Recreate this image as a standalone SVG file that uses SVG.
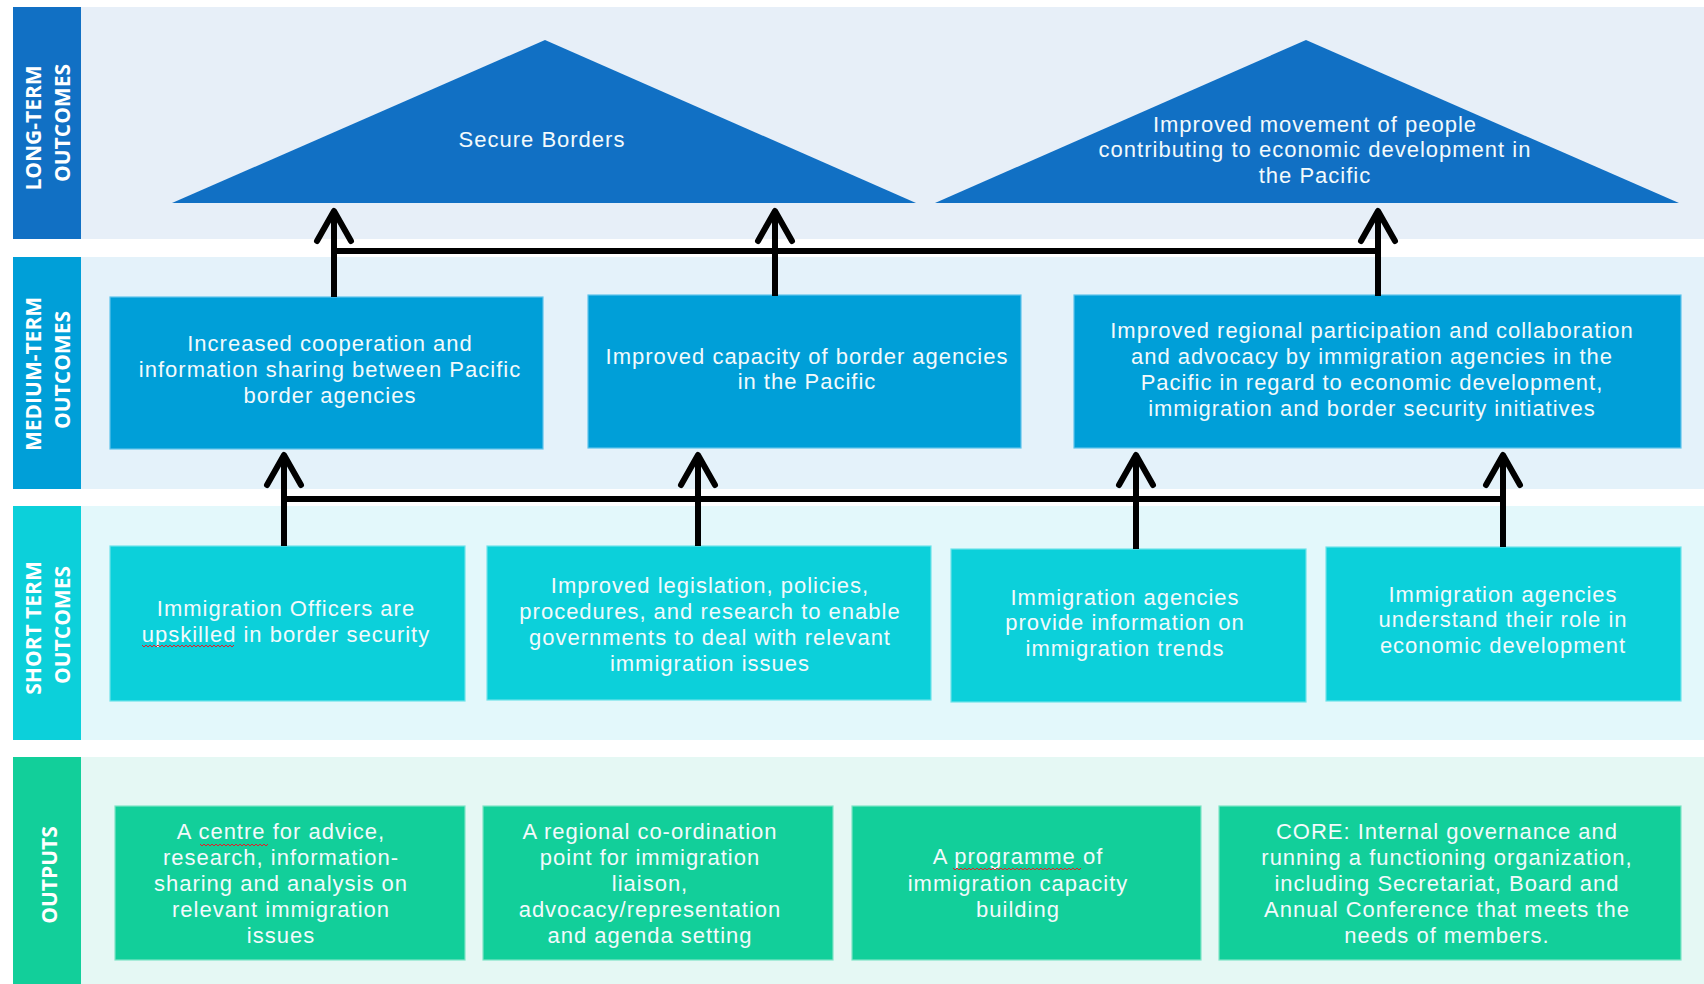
<svg xmlns="http://www.w3.org/2000/svg" width="1704" height="984" viewBox="0 0 1704 984">
<defs>
<style>
.bg1{fill:#E7EFF8}.bg2{fill:#E4F2FA}.bg3{fill:#E3F8FB}.bg4{fill:#E5F8F4}
.c1{fill:#1170C4}.c2{fill:#009FD8}.c3{fill:#0CD0DA}.c4{fill:#12CF9A}
.b2{fill:#009FD8;stroke:#5FC4EC;stroke-width:1.2}
.b3{fill:#0CD0DA;stroke:#6FE3EA;stroke-width:1.2}
.b4{fill:#12CF9A;stroke:#7FE5C6;stroke-width:1.2}
.side{font-family:"Open Sans","DejaVu Sans",sans-serif;font-weight:700;font-size:21px;fill:#FFFFFF;text-anchor:middle}
.t{font-family:"Liberation Sans",Arial,sans-serif;font-size:22px;letter-spacing:1px;fill:#F3FAFC;text-anchor:middle}
.ln{stroke:#000;stroke-width:6;fill:none}
.ar{stroke:#000;stroke-width:6;fill:none;marker-end:url(#head)}
.sp{stroke:#E0202A;stroke-width:1;fill:none}
</style>
<marker id="head" markerUnits="userSpaceOnUse" viewBox="-40 -25 50 50" markerWidth="50" markerHeight="50" refX="0" refY="0" orient="auto">
<path d="M-30,-17 L0,0 L-30,17" stroke="#000" stroke-width="6" fill="none" stroke-linecap="round" stroke-linejoin="round"/>
</marker>
</defs>

<g id="bands">
<rect class="bg1" x="81" y="7" width="1623" height="232"/>
<rect class="bg2" x="81" y="257" width="1623" height="232"/>
<rect class="bg3" x="81" y="506" width="1623" height="234"/>
<rect class="bg4" x="81" y="757" width="1623" height="227"/>
</g>

<g id="label-long">
<rect class="c1" x="13" y="7" width="68" height="232"/>
<text class="side" transform="translate(41,128) rotate(-90)">LONG-TERM</text>
<text class="side" transform="translate(70,123) rotate(-90)">OUTCOMES</text>
</g>
<g id="label-medium">
<rect class="c2" x="13" y="257" width="68" height="232"/>
<text class="side" transform="translate(41,374) rotate(-90)">MEDIUM-TERM</text>
<text class="side" transform="translate(70,370) rotate(-90)">OUTCOMES</text>
</g>
<g id="label-short">
<rect class="c3" x="13" y="506" width="68" height="234"/>
<text class="side" transform="translate(41,628) rotate(-90)">SHORT TERM</text>
<text class="side" transform="translate(70,625) rotate(-90)">OUTCOMES</text>
</g>
<g id="label-outputs">
<rect class="c4" x="13" y="757" width="68" height="227"/>
<text class="side" transform="translate(57,875) rotate(-90)">OUTPUTS</text>
</g>

<g id="lt1">
<polygon class="c1" points="545,40 172,203 916,203"/>
<text class="t" x="542" y="147">Secure Borders</text>
</g>
<g id="lt2">
<polygon class="c1" points="1306,40 935,203 1679,203"/>
<text class="t" x="1315" y="132">Improved movement of people</text>
<text class="t" x="1315" y="157">contributing to economic development in</text>
<text class="t" x="1315" y="183">the Pacific</text>
</g>

<g id="mt1">
<rect class="b2" x="110" y="297" width="433" height="152"/>
<text class="t" x="330" y="351">Increased cooperation and</text>
<text class="t" x="330" y="377">information sharing between Pacific</text>
<text class="t" x="330" y="403">border agencies</text>
</g>
<g id="mt2">
<rect class="b2" x="588" y="295" width="433" height="153"/>
<text class="t" x="807" y="364">Improved capacity of border agencies</text>
<text class="t" x="807" y="389">in the Pacific</text>
</g>
<g id="mt3">
<rect class="b2" x="1074" y="295" width="607" height="153"/>
<text class="t" x="1372" y="338">Improved regional participation and collaboration</text>
<text class="t" x="1372" y="364">and advocacy by immigration agencies in the</text>
<text class="t" x="1372" y="390">Pacific in regard to economic development,</text>
<text class="t" x="1372" y="416">immigration and border security initiatives</text>
</g>

<g id="st1">
<rect class="b3" x="110" y="546" width="355" height="155"/>
<text class="t" x="286" y="616">Immigration Officers are</text>
<text class="t" x="286" y="642">upskilled in border security</text>
<path class="sp" d="M142,645 l2,2 l2,-2 l2,2 l2,-2 l2,2 l2,-2 l2,2 l2,-2 l2,2 l2,-2 l2,2 l2,-2 l2,2 l2,-2 l2,2 l2,-2 l2,2 l2,-2 l2,2 l2,-2 l2,2 l2,-2 l2,2 l2,-2 l2,2 l2,-2 l2,2 l2,-2 l2,2 l2,-2 l2,2 l2,-2 l2,2 l2,-2 l2,2 l2,-2 l2,2 l2,-2 l2,2 l2,-2 l2,2 l2,-2 l2,2 l2,-2 l2,2 l2,-2"/>
</g>
<g id="st2">
<rect class="b3" x="487" y="546" width="444" height="154"/>
<text class="t" x="710" y="593">Improved legislation, policies,</text>
<text class="t" x="710" y="619">procedures, and research to enable</text>
<text class="t" x="710" y="645">governments to deal with relevant</text>
<text class="t" x="710" y="671">immigration issues</text>
</g>
<g id="st3">
<rect class="b3" x="951" y="549" width="355" height="153"/>
<text class="t" x="1125" y="605">Immigration agencies</text>
<text class="t" x="1125" y="630">provide information on</text>
<text class="t" x="1125" y="656">immigration trends</text>
</g>
<g id="st4">
<rect class="b3" x="1326" y="547" width="355" height="154"/>
<text class="t" x="1503" y="602">Immigration agencies</text>
<text class="t" x="1503" y="627">understand their role in</text>
<text class="t" x="1503" y="653">economic development</text>
</g>

<g id="out1">
<rect class="b4" x="115" y="806" width="350" height="154"/>
<text class="t" x="281" y="839">A centre for advice,</text>
<text class="t" x="281" y="865">research, information-</text>
<text class="t" x="281" y="891">sharing and analysis on</text>
<text class="t" x="281" y="917">relevant immigration</text>
<text class="t" x="281" y="943">issues</text>
<path class="sp" d="M200,844 l2,2 l2,-2 l2,2 l2,-2 l2,2 l2,-2 l2,2 l2,-2 l2,2 l2,-2 l2,2 l2,-2 l2,2 l2,-2 l2,2 l2,-2 l2,2 l2,-2 l2,2 l2,-2 l2,2 l2,-2 l2,2 l2,-2 l2,2 l2,-2 l2,2 l2,-2 l2,2 l2,-2 l2,2 l2,-2 l2,2 l2,-2"/>
</g>
<g id="out2">
<rect class="b4" x="483" y="806" width="350" height="154"/>
<text class="t" x="650" y="839">A regional co-ordination</text>
<text class="t" x="650" y="865">point for immigration</text>
<text class="t" x="650" y="891">liaison,</text>
<text class="t" x="650" y="917">advocacy/representation</text>
<text class="t" x="650" y="943">and agenda setting</text>
</g>
<g id="out3">
<rect class="b4" x="852" y="806" width="349" height="154"/>
<text class="t" x="1018" y="864">A programme of</text>
<text class="t" x="1018" y="891">immigration capacity</text>
<text class="t" x="1018" y="917">building</text>
<path class="sp" d="M953,868 l2,2 l2,-2 l2,2 l2,-2 l2,2 l2,-2 l2,2 l2,-2 l2,2 l2,-2 l2,2 l2,-2 l2,2 l2,-2 l2,2 l2,-2 l2,2 l2,-2 l2,2 l2,-2 l2,2 l2,-2 l2,2 l2,-2 l2,2 l2,-2 l2,2 l2,-2 l2,2 l2,-2 l2,2 l2,-2 l2,2 l2,-2 l2,2 l2,-2 l2,2 l2,-2 l2,2 l2,-2 l2,2 l2,-2 l2,2 l2,-2 l2,2 l2,-2 l2,2 l2,-2 l2,2 l2,-2 l2,2 l2,-2 l2,2 l2,-2 l2,2 l2,-2 l2,2 l2,-2 l2,2 l2,-2 l2,2 l2,-2 l2,2 l2,-2"/>
</g>
<g id="out4">
<rect class="b4" x="1219" y="806" width="462" height="154"/>
<text class="t" x="1447" y="839">CORE: Internal governance and</text>
<text class="t" x="1447" y="865">running a functioning organization,</text>
<text class="t" x="1447" y="891">including Secretariat, Board and</text>
<text class="t" x="1447" y="917">Annual Conference that meets the</text>
<text class="t" x="1447" y="943">needs of members.</text>
</g>

<g id="connectors">
<path class="ln" d="M331,251 H1381"/>
<path class="ar" d="M334,297 V211"/>
<path class="ar" d="M775,296 V211"/>
<path class="ar" d="M1378,296 V211"/>
<path class="ln" d="M281,499 H1506"/>
<path class="ar" d="M284,546 V455"/>
<path class="ar" d="M698,546 V455"/>
<path class="ar" d="M1136,549 V455"/>
<path class="ar" d="M1503,547 V455"/>
</g>
</svg>
